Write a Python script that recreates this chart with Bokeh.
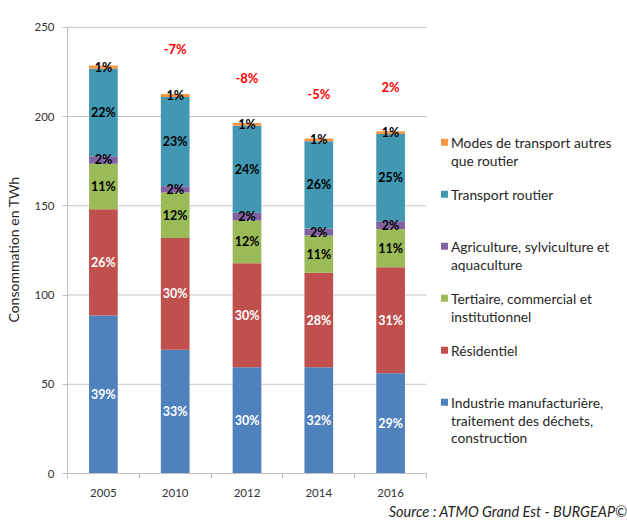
from bokeh.plotting import figure
from bokeh.models import Range1d, FixedTicker, ColumnDataSource, Title
from bokeh.core.properties import value
from bokeh.embed import file_html
from bokeh.resources import INLINE

# ---------------- data ----------------
years = ["2005", "2010", "2012", "2014", "2016"]
industrie = [88.5, 69.3, 59.5, 59.5, 56.2]
residentiel = [59.5, 62.7, 58.3, 53.0, 59.3]
tertiaire = [25.5, 25.5, 23.9, 20.8, 21.5]
agriculture = [4.3, 3.4, 4.4, 3.9, 4.3]
transport_routier = [49.0, 50.1, 48.7, 48.9, 48.9]
autres_transports = [1.8, 1.6, 1.6, 1.6, 1.5]

industrie_pct = ["39%", "33%", "30%", "32%", "29%"]
residentiel_pct = ["26%", "30%", "30%", "28%", "31%"]
tertiaire_pct = ["11%", "12%", "12%", "11%", "11%"]
agriculture_pct = ["2%", "2%", "2%", "2%", "2%"]
routier_pct = ["22%", "23%", "24%", "26%", "25%"]
autres_pct = ["1%", "1%", "1%", "1%", "1%"]

evolution = ["", "-7%", "-8%", "-5%", "2%"]

y_ticks = [0, 50, 100, 150, 200, 250]

series_names = ["industrie", "residentiel", "tertiaire", "agriculture", "routier", "autres"]
series_values = [industrie, residentiel, tertiaire, agriculture, transport_routier, autres_transports]
series_pcts = [industrie_pct, residentiel_pct, tertiaire_pct, agriculture_pct, routier_pct, autres_pct]
series_colors = ["#4F81BD", "#C0504D", "#9BBB59", "#8064A2", "#4298B3", "#F79646"]
label_colors = ["white", "white", "black", "black", "black", "black"]

# legend (top to bottom)
legend_labels = [
    ["Modes de transport autres", "que routier"],
    ["Transport routier"],
    ["Agriculture, sylviculture et", "aquaculture"],
    ["Tertiaire, commercial et", "institutionnel"],
    ["Résidentiel"],
    ["Industrie manufacturière,", "traitement des déchets,", "construction"],
]
legend_colors = list(reversed(series_colors))

# ---------------- figure ----------------
FONT = "Lato"
W, H = 627, 523
LEFT, TOP, BOTTOM = 67, 25, 50
PX_PER_CAT = 71.8
frame_w = W - LEFT
frame_h = H - TOP - BOTTOM
x_end = -0.5 + frame_w / PX_PER_CAT
Y_END = 251
px_per_y = frame_h / float(Y_END)

p = figure(width=W, height=H, output_backend="svg", toolbar_location=None,
           x_range=Range1d(-0.5, x_end), y_range=Range1d(0, Y_END),
           min_border_left=LEFT, min_border_right=0, min_border_top=TOP,
           min_border_bottom=BOTTOM)
p.outline_line_color = None
p.xgrid.visible = False
p.ygrid.visible = False
p.background_fill_color = "white"

xs = list(range(len(years)))
data = {"x": xs}
for n, v in zip(series_names, series_values):
    data[n] = v
src = ColumnDataSource(data)

# gridlines
for t in y_ticks[1:]:
    p.segment(x0=[-0.5], x1=[len(years) - 0.5], y0=[t], y1=[t],
              line_color="#C4C4C4", line_width=1)

p.vbar_stack(series_names, x="x", width=0.4, source=src,
             color=series_colors, line_color=None)

# segment labels
bottoms = [0.0] * len(years)
for vals, pcts, lc in zip(series_values, series_pcts, label_colors):
    centers = [b + v / 2 for b, v in zip(bottoms, vals)]
    p.text(x=xs, y=centers, text=pcts, text_align="center", text_baseline="middle",
           text_color=lc, text_font=value(FONT), text_font_style="bold",
           text_font_size="12.5px")
    bottoms = [b + v for b, v in zip(bottoms, vals)]

# evolution labels
p.text(x=xs, y=[b + 25 for b in bottoms], text=evolution, text_align="center",
       text_baseline="middle", text_color="#FF0000", text_font=value(FONT),
       text_font_style="bold", text_font_size="13px")

# legend
first_line_y = (473 - 141.7) / px_per_y
entry_step = 52.0 / px_per_y
line_step = 17.8 / px_per_y
sq_x = 4.5 + 18 / PX_PER_CAT
txt_x = 4.5 + 24.5 / PX_PER_CAT
sq_ys, tx, ty, tt = [], [], [], []
for k, lines in enumerate(legend_labels):
    y0 = first_line_y - k * entry_step
    sq_ys.append(y0)
    for j, line in enumerate(lines):
        tx.append(txt_x)
        ty.append(y0 - j * line_step)
        tt.append(line)
p.scatter(x=[sq_x] * len(sq_ys), y=sq_ys, marker="square", size=7,
          color=legend_colors, line_color=None)
p.text(x=tx, y=ty, text=tt, text_align="left", text_baseline="middle",
       text_color="#262626", text_font=value(FONT), text_font_size="13.8px")

# axes
p.xaxis.ticker = FixedTicker(ticks=xs, minor_ticks=[i - 0.5 for i in range(len(years) + 1)])
p.xaxis.major_label_overrides = {i: y for i, y in zip(xs, years)}
p.xaxis.bounds = (-0.5, len(years) - 0.5)
p.xaxis.axis_line_color = "#BFBFBF"
p.xaxis.major_tick_line_color = None
p.xaxis.minor_tick_line_color = "#BFBFBF"
p.xaxis.minor_tick_out = 5
p.xaxis.minor_tick_in = 0
p.xaxis.major_label_standoff = 9
p.xaxis.major_label_text_font = FONT
p.xaxis.major_label_text_font_size = "11.5px"
p.xaxis.major_label_text_color = "#333333"

p.yaxis.ticker = FixedTicker(ticks=y_ticks)
p.yaxis.bounds = (0, 250)
p.yaxis.axis_line_color = "#BFBFBF"
p.yaxis.major_tick_line_color = "#BFBFBF"
p.yaxis.major_tick_out = 5
p.yaxis.major_tick_in = 0
p.yaxis.minor_tick_line_color = None
p.yaxis.major_label_standoff = 8
p.yaxis.major_label_text_font = FONT
p.yaxis.major_label_text_font_size = "11.5px"
p.yaxis.major_label_text_color = "#333333"
p.yaxis.axis_label = "Consommation en TWh"
p.yaxis.axis_label_text_font = FONT
p.yaxis.axis_label_text_font_size = "14px"
p.yaxis.axis_label_text_font_style = "normal"
p.yaxis.axis_label_text_color = "#262626"
p.yaxis.axis_label_standoff = 9

src_title = Title(text="Source : ATMO Grand Est - BURGEAP©", align="right",
                  text_font=FONT, text_font_style="italic", text_font_size="14.5px",
                  text_color="#262626", standoff=3, offset=0)
p.add_layout(src_title, "below")

open("out.html", "w").write(file_html(p, INLINE))
